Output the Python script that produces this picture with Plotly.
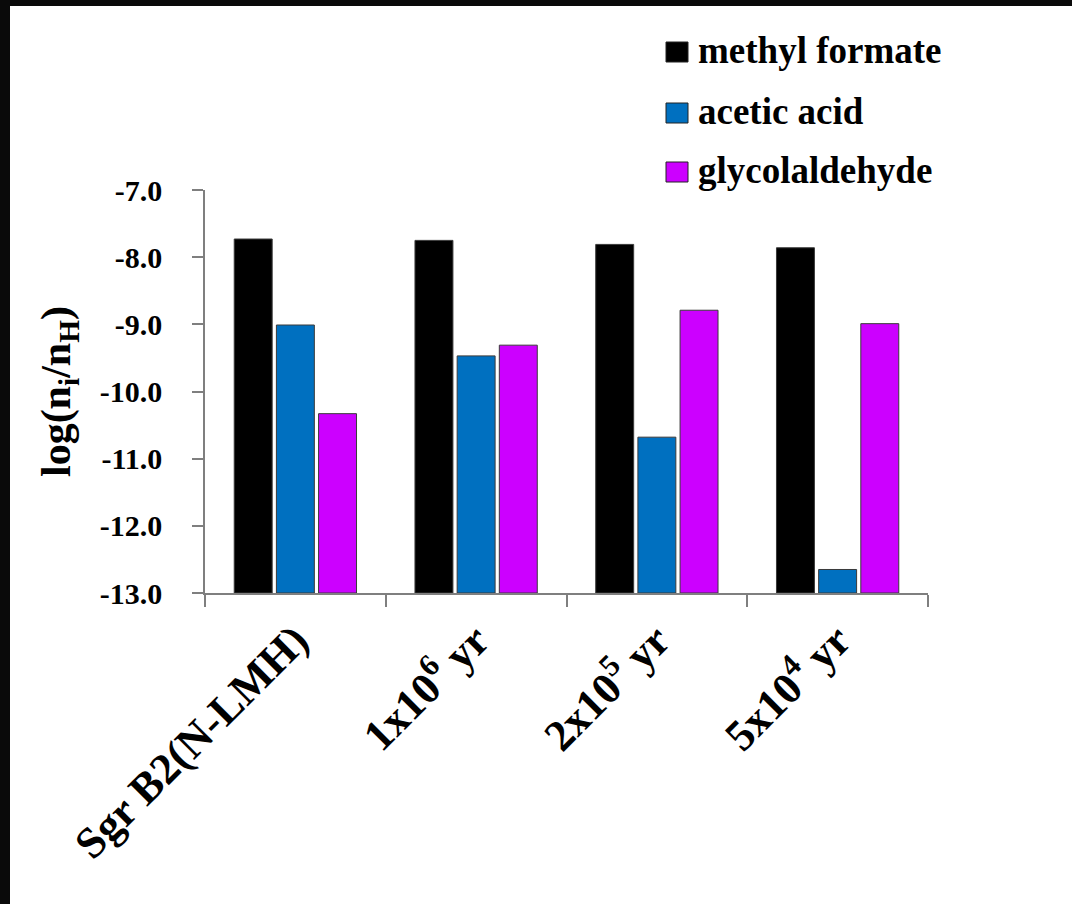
import plotly.graph_objects as go

categories = ["Sgr B2(N-LMH)", "1x10<sup>6</sup> yr", "2x10<sup>5</sup> yr", "5x10<sup>4</sup> yr"]
series_names = ["methyl formate", "acetic acid", "glycolaldehyde"]
methyl_formate = [-7.73, -7.75, -7.81, -7.86]
acetic_acid = [-9.01, -9.47, -10.68, -12.65]
glycolaldehyde = [-10.33, -9.31, -8.79, -8.99]
series_values = [methyl_formate, acetic_acid, glycolaldehyde]
colors = ["#000000", "#0070C0", "#CC00FF"]
y_base = -13.0
y_tick_vals = [-7, -8, -9, -10, -11, -12, -13]
y_tick_labels = ["-7.0", "-8.0", "-9.0", "-10.0", "-11.0", "-12.0", "-13.0"]

W, H = 1072, 904
ML, MR, MT, MB = 205, 144, 190, 311
PW, PH = W - ML - MR, H - MT - MB

def px_x(p):
    return (p - ML) / PW

def px_y(p):
    return (H - MB - p) / PH

FONT = "Liberation Serif, Times New Roman, DejaVu Serif, serif"

fig = go.Figure()
for name, vals, col in zip(series_names, series_values, colors):
    fig.add_trace(go.Bar(
        x=categories,
        y=[v - y_base for v in vals],
        base=[y_base] * len(vals),
        name=name,
        marker=dict(color=col, line=dict(color="#3a3a3a", width=1)),
        showlegend=False,
    ))

shapes = [
    dict(type="rect", xref="paper", yref="paper", x0=px_x(0), x1=px_x(W), y0=px_y(6), y1=px_y(0),
         fillcolor="#0a0a0a", line=dict(width=0), layer="above"),
    dict(type="rect", xref="paper", yref="paper", x0=px_x(0), x1=px_x(10), y0=px_y(H), y1=px_y(0),
         fillcolor="#0a0a0a", line=dict(width=0), layer="above"),
]
annotations = []
legend_centers = [52, 113, 172]
for name, col, cy in zip(series_names, colors, legend_centers):
    shapes.append(dict(type="rect", xref="paper", yref="paper",
                       x0=px_x(666), x1=px_x(688), y0=px_y(cy + 10), y1=px_y(cy - 10),
                       fillcolor=col, line=dict(color="#222222", width=1)))
    annotations.append(dict(xref="paper", yref="paper", x=px_x(696), y=px_y(cy - 2),
                            xanchor="left", yanchor="middle", showarrow=False,
                            text="<b>%s</b>" % name,
                            font=dict(family=FONT, size=37, color="black")))

fig.update_layout(
    width=W, height=H, autosize=False,
    margin=dict(l=ML, r=MR, t=MT, b=MB, pad=0, autoexpand=False),
    paper_bgcolor="white", plot_bgcolor="white",
    barmode="group", bargap=0.3, bargroupgap=0.1,
    font=dict(family=FONT, color="black"),
    shapes=shapes, annotations=annotations,
    showlegend=False,
)
fig.update_xaxes(
    type="category", automargin=False,
    tickvals=categories, ticktext=["<b>%s</b>" % c for c in categories],
    showline=True, linecolor="#7f7f7f", linewidth=1.5,
    ticks="outside", tickson="boundaries", ticklen=12, tickcolor="#7f7f7f", tickwidth=1.5,
    tickangle=-45, tickfont=dict(family=FONT, size=44, color="black"),
    showgrid=False, zeroline=False,
    ticklabelstandoff=2,
)
fig.update_yaxes(
    range=[-13, -7], automargin=False,
    tickvals=y_tick_vals, ticktext=["<b>%s</b>" % t for t in y_tick_labels],
    showline=True, linecolor="#7f7f7f", linewidth=1.5,
    ticks="outside", ticklen=11, tickcolor="#7f7f7f", tickwidth=1.5,
    tickfont=dict(family=FONT, size=30, color="black"),
    showgrid=False, zeroline=False,
    ticklabelstandoff=24,
    title=dict(text="<b>log(n<sub>i</sub>/n<sub>H</sub>)</b>",
               font=dict(family=FONT, size=42, color="black"), standoff=16),
)

fig.write_html("out.html", config={"displayModeBar": False},
               post_script="document.body.style.margin='0';document.body.style.overflow='hidden';document.body.style.background='white';")
